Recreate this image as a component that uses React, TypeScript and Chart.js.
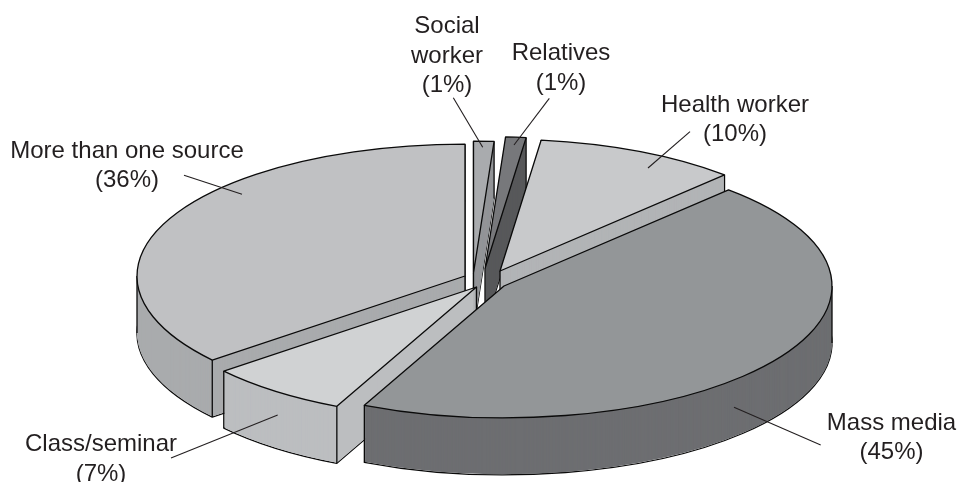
import React, { useEffect, useRef } from "react";
import { Chart, registerables } from "chart.js";

Chart.register(...registerables);

// ---- data (clockwise from 12 o'clock) ----
const categories = ["Social worker", "Relatives", "Health worker", "Mass media", "Class/seminar", "More than one source"];
const shares = [1, 1, 10, 45, 7, 36];

// ---- styling ----
const topColors = ["#a9abae", "#77787b", "#c8c9cb", "#939698", "#d0d2d3", "#c0c1c3"];
const wallColors = ["#939598", "#58595b", "#b2b4b6", "#6d6e71", "#bcbec0", "#a9abad"];
const TILT = 0.402;
const DEPTH = 57;
const RADIUS = 328;
const INK = "#0a0a0a";
const FONT = '24px "Liberation Sans", Arial, sans-serif';

// where each exploded slice's apex sits on the page
const apexX = [473.5, 485, 500, 504, 476.5, 465];
const apexY = [273, 268.5, 271, 286, 287, 276];
// back-to-front order for the side walls
const wallOrder = [0, 1, 5, 2, 4, 3];

// label layout: text lines centre/baselines and leader ends
const labelLines = [["Social", "worker"], ["Relatives"], ["Health worker"], ["Mass media"], ["Class/seminar"], ["More than one source"]];
const labelX = [447, 561, 735, 891.5, 101, 127];
const labelY = [33, 60, 111.5, 429.5, 451, 157.5];
const LINE_GAP = 29.5;
const leaders = [
  [453.3, 97.7, 482.7, 147.3],
  [549.3, 98.3, 514, 145],
  [690, 131.7, 648, 168],
  [820.7, 445, 734, 407.3],
  [171, 458, 277.7, 415],
  [184, 175.3, 242, 194.3],
];

function place(ctx: CanvasRenderingContext2D, arc: any, i: number, drop: number) {
  ctx.translate(apexX[i], apexY[i] + drop);
  ctx.scale(1, TILT);
  ctx.translate(-arc.x, -arc.y);
}

function tracePath(ctx: CanvasRenderingContext2D, arc: any, i: number, drop: number) {
  ctx.save();
  place(ctx, arc, i, drop);
  ctx.beginPath();
  ctx.moveTo(arc.x, arc.y);
  ctx.arc(arc.x, arc.y, arc.outerRadius, arc.startAngle, arc.endAngle);
  ctx.closePath();
  ctx.restore();
}

const pie3d = {
  id: "pie3d",
  beforeDatasetDraw(chart: any) {
    const ctx: CanvasRenderingContext2D = chart.ctx;
    const arcs = chart.getDatasetMeta(0).data;
    ctx.lineWidth = 1.3;
    ctx.lineJoin = "round";
    ctx.strokeStyle = INK;

    for (const i of wallOrder) {
      const arc = arcs[i];
      tracePath(ctx, arc, i, DEPTH);
      ctx.stroke();
      ctx.fillStyle = wallColors[i];
      for (let d = DEPTH - 0.5; d >= 0; d -= 1) {
        tracePath(ctx, arc, i, d);
        ctx.fill();
      }
      const angles = [arc.startAngle, arc.endAngle];
      if (arc.startAngle < 0 && arc.endAngle > 0) angles.push(0);
      if (arc.startAngle < Math.PI && arc.endAngle > Math.PI) angles.push(Math.PI);
      const px = [apexX[i]];
      const py = [apexY[i]];
      for (const a of angles) {
        px.push(apexX[i] + Math.cos(a) * arc.outerRadius);
        py.push(apexY[i] + Math.sin(a) * arc.outerRadius * TILT);
      }
      ctx.beginPath();
      px.forEach((x, n) => {
        ctx.moveTo(x, py[n]);
        ctx.lineTo(x, py[n] + DEPTH);
      });
      ctx.stroke();
    }

    arcs.forEach((arc: any, i: number) => {
      ctx.save();
      place(ctx, arc, i, 0);
      arc.draw(ctx);
      ctx.restore();
    });

    ctx.strokeStyle = INK;
    ctx.lineWidth = 1.3;
    arcs.forEach((arc: any, i: number) => {
      tracePath(ctx, arc, i, 0);
      ctx.stroke();
    });
    return false;
  },
  afterDraw(chart: any) {
    const ctx: CanvasRenderingContext2D = chart.ctx;
    ctx.save();
    ctx.strokeStyle = "#231f20";
    ctx.lineWidth = 1.1;
    leaders.forEach(([x1, y1, x2, y2]) => {
      ctx.beginPath();
      ctx.moveTo(x1, y1);
      ctx.lineTo(x2, y2);
      ctx.stroke();
    });
    ctx.fillStyle = "#231f20";
    ctx.font = FONT;
    ctx.textAlign = "center";
    ctx.textBaseline = "alphabetic";
    labelLines.forEach((lines, i) => {
      const all = [...lines, `(${shares[i]}%)`];
      all.forEach((t, n) => ctx.fillText(t, labelX[i], labelY[i] + n * LINE_GAP));
    });
    ctx.restore();
  },
};

export default function App() {
  const ref = useRef<HTMLCanvasElement | null>(null);
  useEffect(() => {
    const chart = new Chart(ref.current as HTMLCanvasElement, {
      type: "pie",
      data: {
        labels: categories,
        datasets: [
          {
            data: shares,
            backgroundColor: topColors,
            borderWidth: 0,
            radius: RADIUS,
            clip: false,
          } as any,
        ],
      },
      options: {
        responsive: false,
        animation: false,
        rotation: 0,
        events: [],
        plugins: { legend: { display: false }, tooltip: { enabled: false } },
      },
      plugins: [pie3d as any],
    });
    return () => chart.destroy();
  }, []);
  return (
    <div style={{ position: "fixed", left: 0, top: 0, width: 960, height: 482, background: "#fff" }}>
      <canvas ref={ref} width={960} height={482} style={{ display: "block" }} />
    </div>
  );
}
